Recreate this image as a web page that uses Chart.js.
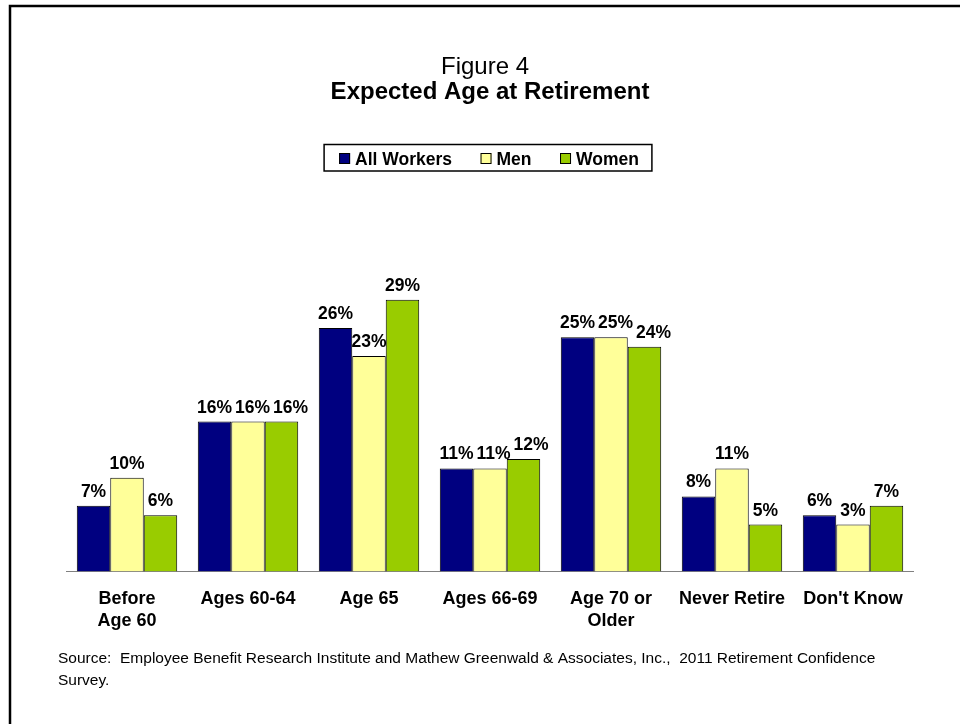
<!DOCTYPE html>
<html>
<head>
<meta charset="utf-8">
<title>Expected Age at Retirement</title>
<script src="https://cdn.jsdelivr.net/npm/chart.js@4"></script>
<style>
  html, body { margin: 0; padding: 0; background: #fff; }
  #wrap { width: 960px; height: 724px; }
</style>
</head>
<body>
<div id="wrap"><canvas id="grafico" width="960" height="724"></canvas></div>
<script>
// dados
const categories = [['Before', 'Age 60'], 'Ages 60-64', 'Age 65', 'Ages 66-69', ['Age 70 or', 'Older'], 'Never Retire', "Don't Know"];
const allWorkers = [7, 16, 26, 11, 25, 8, 6];
const men = [10, 16, 23, 11, 25, 11, 5];
// the "Don't Know" men bar is drawn at ~5% but labelled 3%
const menLabels = ['10%', '16%', '23%', '11%', '25%', '11%', '3%'];
const women = [6, 16, 29, 12, 24, 5, 7];

const FONT = "'Liberation Sans', Arial, Helvetica, sans-serif";

// textos, moldura e legenda desenhados a mão
const extras = {
    id: 'extras',
    afterDatasetsDraw(chart) {
        const ctx = chart.ctx;
        ctx.save();
        ctx.font = 'bold 17.5px ' + FONT;
        ctx.fillStyle = '#000';
        ctx.textAlign = 'left';
        ctx.textBaseline = 'alphabetic';
        const n = chart.data.labels.length;
        for (let j = 0; j < n; j++) {
            let prev = null;
            chart.data.datasets.forEach((ds, i) => {
                const bar = chart.getDatasetMeta(i).data[j];
                const txt = ds.valueLabels ? ds.valueLabels[j] : ds.data[j] + '%';
                const w = ctx.measureText(txt).width;
                const y = bar.y - 9;
                let left = bar.x - w / 2;
                // empurra para a direita se encostar no rótulo anterior da mesma altura
                if (prev && Math.abs(prev.y - y) < 14 && left < prev.right + 3) {
                    left = prev.right + 3;
                }
                ctx.fillText(txt, left, y);
                prev = { right: left + w, y: y };
            });
        }
        ctx.restore();
    },
    afterDraw(chart) {
        const ctx = chart.ctx;
        ctx.save();

        // moldura
        ctx.strokeStyle = '#000';
        ctx.lineWidth = 2.5;
        ctx.beginPath();
        ctx.moveTo(10, 724);
        ctx.lineTo(10, 6);
        ctx.lineTo(960, 6);
        ctx.stroke();

        // título
        ctx.fillStyle = '#000';
        ctx.textAlign = 'center';
        ctx.font = '24px ' + FONT;
        ctx.fillText('Figure 4', 485, 74);
        ctx.font = 'bold 24px ' + FONT;
        ctx.fillText('Expected Age at Retirement', 490, 99);

        // legenda
        ctx.font = 'bold 17.5px ' + FONT;
        const items = chart.data.datasets.map(ds => ({
            label: ds.label, color: ds.backgroundColor, w: ctx.measureText(ds.label).width
        }));
        let total = 15 + 13;
        items.forEach((it, k) => { total += 11 + 5 + it.w + (k < items.length - 1 ? 28.5 : 0); });
        const boxL = 488 - total / 2;
        ctx.lineWidth = 1.5;
        ctx.strokeStyle = '#000';
        ctx.strokeRect(boxL, 144.5, total, 26.5);
        let x = boxL + 15;
        ctx.textAlign = 'left';
        items.forEach(it => {
            ctx.fillStyle = it.color;
            ctx.fillRect(x, 153, 11, 11);
            ctx.lineWidth = 1;
            ctx.strokeStyle = '#000';
            ctx.strokeRect(x + 0.5, 153.5, 10, 10);
            ctx.fillStyle = '#000';
            ctx.fillText(it.label, x + 16, 165);
            x += 11 + 5 + it.w + 28.5;
        });

        // fonte
        ctx.font = '15.5px ' + FONT;
        ctx.fillText('Source:  Employee Benefit Research Institute and Mathew Greenwald & Associates, Inc.,  2011 Retirement Confidence', 58, 663);
        ctx.fillText('Survey.', 58, 685);

        ctx.restore();
    }
};

function createChart() {
    const ctx = document.getElementById('grafico').getContext('2d');
    new Chart(ctx, {
        type: 'bar',
        data: {
            labels: categories,
            datasets: [
                { label: 'All Workers', data: allWorkers, backgroundColor: '#000080', borderColor: '#000', borderWidth: 1 },
                { label: 'Men', data: men, valueLabels: menLabels, backgroundColor: '#FFFF99', borderColor: '#000', borderWidth: 1 },
                { label: 'Women', data: women, backgroundColor: '#99CC00', borderColor: '#000', borderWidth: 1 }
            ]
        },
        options: {
            responsive: false,
            animation: false,
            devicePixelRatio: 1,
            layout: { padding: { left: 66.5, right: 46.5, top: 290.5, bottom: 83.4 } },
            datasets: { bar: { categoryPercentage: 0.83, barPercentage: 1.0 } },
            plugins: {
                legend: { display: false },
                title: { display: false },
                tooltip: { enabled: false }
            },
            scales: {
                y: { display: false, min: 0, max: 30 },
                x: {
                    grid: { display: false },
                    border: { display: true, color: '#808080', width: 1 },
                    ticks: {
                        color: '#000',
                        font: { family: FONT, size: 18, weight: 'bold' },
                        padding: 9,
                        maxRotation: 0,
                        autoSkip: false
                    }
                }
            }
        },
        plugins: [extras]
    });
}

document.addEventListener('DOMContentLoaded', createChart);
</script>
</body>
</html>
